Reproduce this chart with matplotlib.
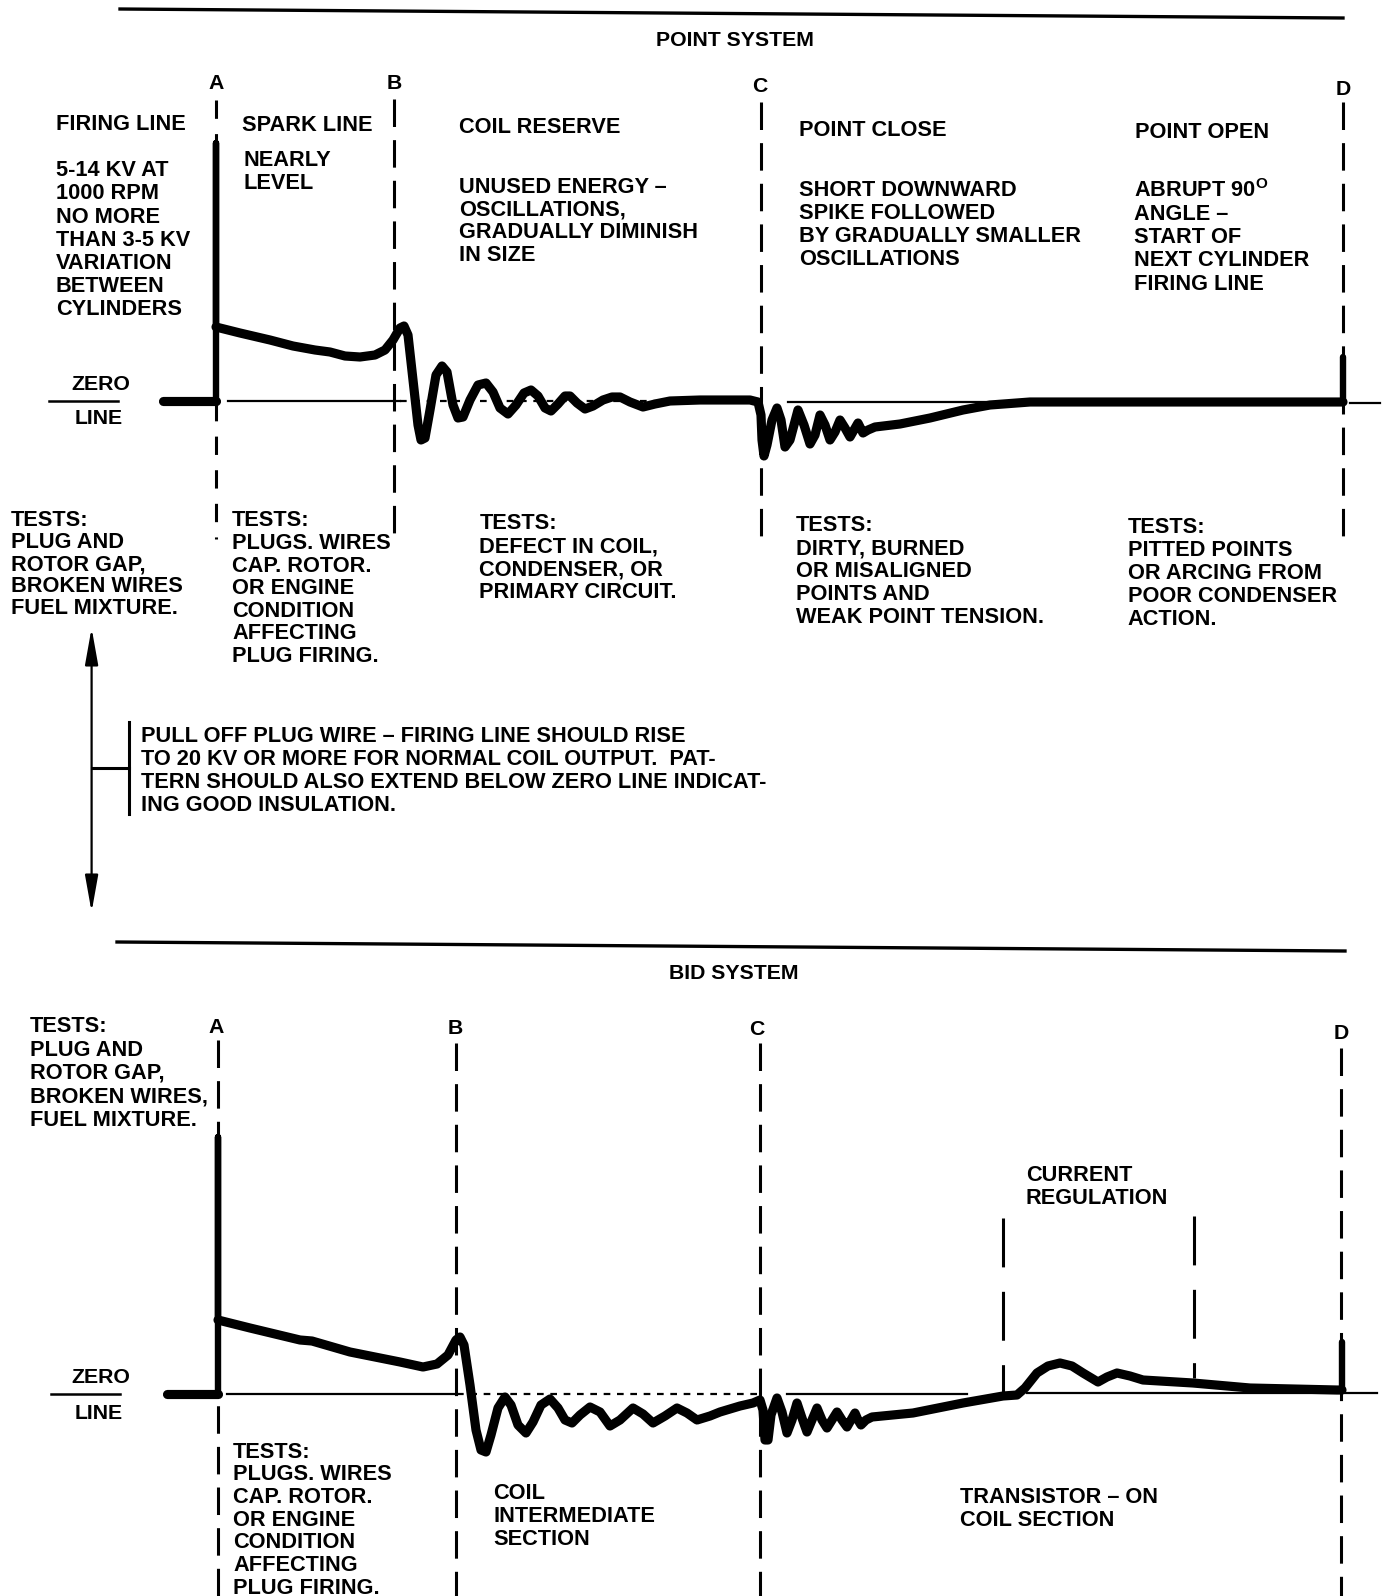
import matplotlib.pyplot as plt

plt.rcParams['font.family'] = ['Liberation Sans', 'DejaVu Sans']
plt.rcParams['mathtext.fontset'] = 'custom'
plt.rcParams['mathtext.rm'] = 'Liberation Sans:bold'

W, H = 1387, 1596
S = W / 1363.0

#region: Data

MARKERS = ['A', 'B', 'C', 'D']

# trace vertices, in pixels (y grows downward)
# --- point system ---
PT_LEAD_X = [163, 216]
PT_LEAD_Y = [401, 401]
PT_FIRE_X = [216, 216, 216]
PT_FIRE_Y = [401, 143, 327]
PT_WAVE_X = [216, 240, 270, 293, 315, 330, 345, 360, 375, 385, 393, 400, 404, 408,
             413, 418, 421, 425, 430, 436, 442, 447, 453, 458, 463, 470, 478, 486,
             493, 500, 508, 516, 524, 531, 538, 545, 551, 558, 565, 570, 577, 585,
             593, 603, 612, 620, 630, 643, 655, 670, 700, 750, 758,
             761, 762, 764, 767, 772, 777, 781, 785, 790, 798, 804, 810, 815, 820,
             825, 830, 835, 840, 845, 850, 854, 858, 863, 868, 875, 900, 930, 963,
             990, 1030, 1100, 1343]
PT_WAVE_Y = [327, 333, 340, 346, 350, 352, 356, 357, 355, 350, 340, 328, 326, 335,
             380, 425, 440, 438, 410, 375, 366, 372, 405, 418, 417, 400, 385, 383,
             392, 408, 414, 405, 393, 390, 396, 408, 411, 404, 396, 396, 403, 409,
             406, 400, 397, 397, 402, 407, 404, 401, 400, 400, 402,
             415, 440, 456, 445, 420, 408, 420, 447, 440, 410, 425, 444, 435, 415,
             425, 440, 432, 420, 428, 437, 430, 423, 433, 430, 427, 424, 418, 410,
             405, 402, 402, 402]
PT_OPEN_X = [1343, 1343]
PT_OPEN_Y = [402, 357]

# --- BID system ---
BID_LEAD_X = [167, 218]
BID_LEAD_Y = [1394, 1394]
BID_FIRE_X = [218, 218, 218]
BID_FIRE_Y = [1394, 1137, 1320]
BID_WAVE_X = [218, 250, 300, 312, 350, 400, 423, 437, 448, 456, 460, 464, 470, 476,
              481, 486, 491, 498, 505, 511, 518, 526, 533, 541, 550, 558, 565, 572,
              580, 590, 600, 610, 620, 633, 643, 653, 665, 677, 687, 697, 710, 720,
              740, 753, 760, 763, 765, 768, 771, 777, 782, 787, 792, 797, 802, 807,
              812, 817, 822, 827, 832, 837, 842, 847, 851, 855, 858, 861, 866, 872,
              913, 963, 1003, 1017, 1025, 1037, 1048, 1060, 1072, 1083, 1098, 1107,
              1117, 1130, 1143, 1193, 1250, 1337, 1342]
BID_WAVE_Y = [1320, 1328, 1340, 1341, 1352, 1362, 1367, 1364, 1355, 1340, 1337, 1345,
              1385, 1430, 1450, 1452, 1435, 1408, 1397, 1405, 1425, 1433, 1422, 1405,
              1399, 1408, 1420, 1423, 1415, 1407, 1412, 1426, 1420, 1408, 1414, 1423,
              1416, 1408, 1413, 1420, 1416, 1412, 1406, 1403, 1400, 1410, 1440, 1440,
              1415, 1398, 1412, 1433, 1420, 1403, 1418, 1432, 1420, 1408, 1420, 1428,
              1420, 1412, 1420, 1427, 1420, 1413, 1420, 1425, 1420, 1417, 1413, 1403,
              1396, 1395, 1388, 1373, 1366, 1363, 1366, 1373, 1382, 1377, 1373, 1376,
              1380, 1383, 1388, 1390, 1390]
BID_OPEN_X = [1342, 1342]
BID_OPEN_Y = [1390, 1342]

# captions
FIRING_LINE = ["5-14 KV AT", "1000 RPM", "NO MORE", "THAN 3-5 KV", "VARIATION",
               "BETWEEN", "CYLINDERS"]
SPARK_LINE = ["NEARLY", "LEVEL"]
COIL_RESERVE = ["UNUSED ENERGY \u2013", "OSCILLATIONS,", "GRADUALLY DIMINISH", "IN SIZE"]
POINT_CLOSE = ["SHORT DOWNWARD", "SPIKE FOLLOWED", "BY GRADUALLY SMALLER", "OSCILLATIONS"]
POINT_OPEN = ["ABRUPT 90$^{\\mathrm{O}}$", "ANGLE \u2013", "START OF", "NEXT CYLINDER",
              "FIRING LINE"]
TESTS_FIRING = ["TESTS:", "PLUG AND", "ROTOR GAP,", "BROKEN WIRES", "FUEL MIXTURE."]
TESTS_SPARK = ["TESTS:", "PLUGS. WIRES", "CAP. ROTOR.", "OR ENGINE", "CONDITION",
               "AFFECTING", "PLUG FIRING."]
TESTS_COIL = ["TESTS:", "DEFECT IN COIL,", "CONDENSER, OR", "PRIMARY CIRCUIT."]
TESTS_CLOSE = ["TESTS:", "DIRTY, BURNED", "OR MISALIGNED", "POINTS AND",
               "WEAK POINT TENSION."]
TESTS_OPEN = ["TESTS:", "PITTED POINTS", "OR ARCING FROM", "POOR CONDENSER", "ACTION."]
PULL_OFF = ["PULL OFF PLUG WIRE \u2013 FIRING LINE SHOULD RISE",
            "TO 20 KV OR MORE FOR NORMAL COIL OUTPUT.  PAT-",
            "TERN SHOULD ALSO EXTEND BELOW ZERO LINE INDICAT-",
            "ING GOOD INSULATION."]
BID_TESTS_FIRING = ["TESTS:", "PLUG AND", "ROTOR GAP,", "BROKEN WIRES,", "FUEL MIXTURE."]
CURRENT_REG = ["CURRENT", "REGULATION"]
COIL_INTER = ["COIL", "INTERMEDIATE", "SECTION"]
TRANSISTOR = ["TRANSISTOR \u2013 ON", "COIL SECTION"]

#endregion

fig = plt.figure(figsize=(W / 100, H / 100), dpi=100)
ax = fig.add_axes([0, 0, 1, 1])
ax.set_xlim(0, W)
ax.set_ylim(H, 0)
ax.axis('off')

TXT = dict(fontsize=15.7, fontweight='bold', color='black')
HEAD = dict(fontsize=15.3, fontweight='bold', color='black')


def block(x, y, lines, dy=22.7):
    # x, y: left edge / cap centre of first line in preview pixels
    for i, s in enumerate(lines):
        ax.text(x * S, (y + i * dy + 7.3) * S, s, ha='left', va='baseline', **TXT)


def label(x, y, s):
    ax.text(x * S, (y + 7.0) * S, s, ha='center', va='baseline', **HEAD)


def vdash(x, y0, y1, dashes=(9, 4.3), lw=2.2):
    ax.plot([x, x], [y0, y1], color='black', lw=lw, dashes=dashes, solid_capstyle='butt')


def trace(xs, ys, lw):
    ax.plot(xs, ys, color='black', lw=lw, solid_capstyle='round', solid_joinstyle='round')


WAVE_LW = 6.6
SPIKE_LW = 4.6

# ---------------- POINT SYSTEM ----------------
ax.plot([120, 1343], [9, 18], color='black', lw=2.4)
ax.text(722 * S, 45 * S, "POINT SYSTEM", ha='center', va='baseline', **HEAD)

for s, (x, y) in zip(MARKERS, [(212, 80), (387, 80), (747, 83), (1320, 86)]):
    label(x, y, s)

vdash(216, 100, 539, dashes=(6, 5))
vdash(394, 99, 544)
vdash(761, 102, 544)
vdash(1343, 102, 544)

# zero line
ax.plot([49, 118], [401, 401], color='black', lw=1.8)
ax.plot([228, 400], [401, 401], color='black', lw=1.6)
ax.plot([400, 760], [401, 401], color='black', lw=1.6, dashes=(3, 3))
ax.plot([788, 1343], [402, 402], color='black', lw=1.6)
ax.plot([1350, 1380], [403, 403], color='black', lw=1.6)
label(99, 376, "ZERO")
label(97, 410, "LINE")

trace(PT_LEAD_X, PT_LEAD_Y, WAVE_LW)
trace(PT_FIRE_X, PT_FIRE_Y, SPIKE_LW)
trace(PT_WAVE_X, PT_WAVE_Y, WAVE_LW)
trace(PT_OPEN_X, PT_OPEN_Y, SPIKE_LW)

block(55, 120, ["FIRING LINE"])
block(55, 166, FIRING_LINE, 22.7)
block(238, 121, ["SPARK LINE"])
block(239, 156, SPARK_LINE, 22.3)
block(451, 123, ["COIL RESERVE"])
block(451, 182, COIL_RESERVE, 22.5)
block(785, 126, ["POINT CLOSE"])
block(785, 185, POINT_CLOSE, 22.7)
block(1115, 128, ["POINT OPEN"])
block(1114, 186, POINT_OPEN, 22.8)

block(11, 510, TESTS_FIRING, 21.5)
block(228, 510, TESTS_SPARK, 22.2)
block(471, 513, TESTS_COIL, 22.4)
block(782, 515, TESTS_CLOSE, 22.5)
block(1108, 516, TESTS_OPEN, 22.8)

# pull-off-wire note with double arrow
ax.annotate('', xy=(91.6, 628), xytext=(91.6, 912),
            arrowprops=dict(arrowstyle='<|-|>,head_length=1.4,head_width=0.25',
                            color='black', lw=1.6, mutation_scale=16,
                            shrinkA=0, shrinkB=0))
ax.plot([91.6, 129], [768, 768], color='black', lw=2.2)
ax.plot([129, 129], [722, 814], color='black', lw=2.2)
block(139, 722, PULL_OFF, 22.7)

# ---------------- BID SYSTEM ----------------
ax.plot([117, 1345], [942, 951], color='black', lw=2.4)
ax.text(721 * S, 962 * S, "BID SYSTEM", ha='center', va='baseline', **HEAD)

for s, (x, y) in zip(MARKERS, [(212, 1008), (447, 1009), (744, 1010), (1318, 1014)]):
    label(x, y, s)

vdash(218, 1040, 1596)
vdash(456, 1043, 1596)
vdash(760, 1043, 1596)
vdash(1341, 1048, 1596)
vdash(1003, 1218, 1392, dashes=(16, 8))
vdash(1194, 1216, 1378, dashes=(16, 8))

ax.plot([51, 120], [1394, 1394], color='black', lw=1.8)
ax.plot([227, 457], [1394, 1394], color='black', lw=1.6)
ax.plot([457, 760], [1394, 1394], color='black', lw=1.6, dashes=(3, 3))
ax.plot([787, 967], [1394, 1394], color='black', lw=1.6)
ax.plot([1027, 1377], [1393, 1393], color='black', lw=1.6)
label(99, 1352, "ZERO")
label(97, 1387, "LINE")

trace(BID_LEAD_X, BID_LEAD_Y, WAVE_LW)
trace(BID_FIRE_X, BID_FIRE_Y, SPIKE_LW)
trace(BID_WAVE_X, BID_WAVE_Y, WAVE_LW)
trace(BID_OPEN_X, BID_OPEN_Y, SPIKE_LW)

block(29, 1007, BID_TESTS_FIRING, 23)
block(1008, 1153, CURRENT_REG, 23)
block(229, 1425, TESTS_SPARK, 22.3)
block(485, 1466, COIL_INTER, 22.5)
block(943, 1470, TRANSISTOR, 22)

fig.savefig('out.png', dpi=100)
